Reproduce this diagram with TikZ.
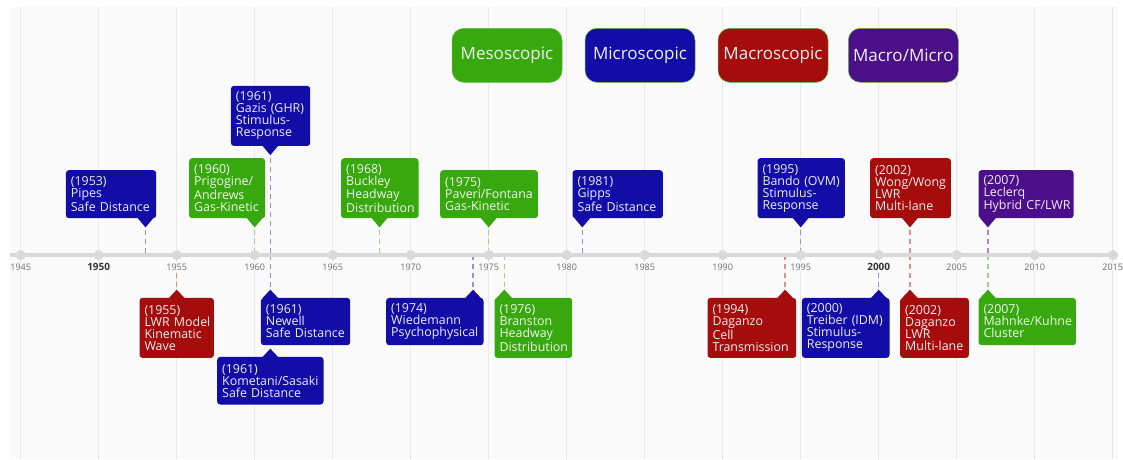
\documentclass[tikz,border=0pt]{standalone}
\usepackage{fontspec}
\setmainfont{Open Sans}
\definecolor{micro}{HTML}{120DA6}
\definecolor{meso}{HTML}{38A80F}
\definecolor{macro}{HTML}{A50D0D}
\definecolor{hybrid}{HTML}{4B0F8A}
\definecolor{plotbg}{HTML}{FAFAFA}
\definecolor{gridgray}{HTML}{E8E8E8}
\definecolor{axisgray}{HTML}{D9D9D9}
\definecolor{ticktext}{HTML}{6E6E6E}
\exhyphenpenalty=10000
\hyphenpenalty=10000

\tikzset{
  evbox/.style={anchor=north west, rounded corners=3pt, inner xsep=5pt, inner ysep=0pt, align=left,
    font=\fontsize{12.4}{12}\selectfont},
  microbox/.style={evbox, fill=micro, text=micro!8!white},
  mesobox/.style={evbox, fill=meso, text=meso!8!white},
  macrobox/.style={evbox, fill=macro, text=macro!8!white},
  hybridbox/.style={evbox, fill=hybrid, text=hybrid!8!white},
  evline/.style={line width=1.5pt, dash pattern=on 5pt off 4pt},
  microline/.style={evline, draw=micro!45!white},
  mesoline/.style={evline, draw=meso!50!white},
  macroline/.style={evline, draw=macro!45!white},
  hybridline/.style={evline, draw=hybrid!50!white},
  legendbox/.style={rounded corners=12pt, minimum width=110pt, minimum height=54pt, draw=meso!80!white,
    line width=0.5pt, text=white!94!black, font=\fontsize{17}{20}\selectfont},
  yearlabel/.style={fill=plotbg, inner sep=1pt, text=ticktext, font=\fontsize{9}{10}\selectfont},
  bigyear/.style={yearlabel, text=black!80, font=\fontsize{10}{11}\selectfont\bfseries},
}

\begin{document}
\begin{tikzpicture}[x=1pt, y=-1pt]
    \useasboundingbox (0,0) rectangle (1123,459);
    \fill[white] (0,0) rectangle (1123,459);
    \fill[plotbg] (10,7) rectangle (1118,459);

    % grid, one line every five years
    \draw[gridgray, line width=1pt]
        (20.7,7) -- (20.7,459) (98.7,7) -- (98.7,459) (176.7,7) -- (176.7,459)
        (254.7,7) -- (254.7,459) (332.7,7) -- (332.7,459) (410.7,7) -- (410.7,459)
        (488.7,7) -- (488.7,459) (566.7,7) -- (566.7,459) (644.7,7) -- (644.7,459)
        (722.7,7) -- (722.7,459) (800.7,7) -- (800.7,459) (878.7,7) -- (878.7,459)
        (956.7,7) -- (956.7,459) (1034.7,7) -- (1034.7,459) (1112.7,7) -- (1112.7,459);

    % events on the axis
    \coordinate (e1953) at (145.5,255);
    \coordinate (e1955) at (176.7,255);
    \coordinate (e1960) at (254.7,255);
    \coordinate (e1961) at (270.3,255);
    \coordinate (e1968) at (379.5,255);
    \coordinate (e1974) at (473.1,255);
    \coordinate (e1975) at (488.7,255);
    \coordinate (e1976) at (504.3,255);
    \coordinate (e1981) at (582.3,255);
    \coordinate (e1994) at (785.1,255);
    \coordinate (e1995) at (800.7,255);
    \coordinate (e2000) at (878.7,255);
    \coordinate (e2002) at (909.9,255);
    \coordinate (e2007) at (987.9,255);

    % legend
    \node[legendbox, fill=meso] (lmeso) at (507,55.3) {Mesoscopic};
    \node[legendbox, fill=micro] (lmicro) at (640,55.3) {Microscopic};
    \node[legendbox, fill=macro] (lmacro) at (773,55.3) {Macroscopic};
    \node[legendbox, fill=hybrid] (lhybrid) at (903.3,55.3) {Macro/Micro};

    % above the axis
    \node[microbox, text width=80.3pt, minimum height=48] (pipes) at (65.7,170) {(1953)\\Pipes\\Safe~Distance};
    \node[mesobox, text width=66pt, minimum height=60] (prigogine) at (189,158) {(1960)\\Prigogine/\\Andrews\\Gas-Kinetic};
    \node[microbox, text width=69.3pt, minimum height=60] (gazis) at (230.7,85.7) {(1961)\\Gazis~(GHR)\\Stimulus-\\Response};
    \node[mesobox, text width=67.3pt, minimum height=60] (buckley) at (341,158) {(1968)\\Buckley\\Headway\\Distribution};
    \node[mesobox, text width=87.7pt, minimum height=48] (paveri) at (440,170) {(1975)\\Paveri/Fontana\\Gas-Kinetic};
    \node[microbox, text width=80.4pt, minimum height=48] (gipps) at (572.3,170) {(1981)\\Gipps\\Safe~Distance};
    \node[microbox, text width=77.4pt, minimum height=60] (bando) at (757.3,158) {(1995)\\Bando~(OVM)\\Stimulus-\\Response};
    \node[macrobox, text width=70.7pt, minimum height=60] (wong) at (870,158) {(2002)\\Wong/Wong\\LWR\\Multi-lane};
    \node[hybridbox, text width=85pt, minimum height=48] (leclerq) at (978.3,170) {(2007)\\Leclerq\\Hybrid~CF/LWR};

    \fill[micro] (pipes.south -| e1953) ++(-8,-0.5) -- ++(8,9.5) -- ++(8,-9.5) -- cycle;
    \fill[meso] (prigogine.south -| e1960) ++(-8,-0.5) -- ++(8,9.5) -- ++(8,-9.5) -- cycle;
    \fill[micro] (gazis.south -| e1961) ++(-8,-0.5) -- ++(8,9.5) -- ++(8,-9.5) -- cycle;
    \fill[meso] (buckley.south -| e1968) ++(-8,-0.5) -- ++(8,9.5) -- ++(8,-9.5) -- cycle;
    \fill[meso] (paveri.south -| e1975) ++(-8,-0.5) -- ++(8,9.5) -- ++(8,-9.5) -- cycle;
    \fill[micro] (gipps.south -| e1981) ++(-8,-0.5) -- ++(8,9.5) -- ++(8,-9.5) -- cycle;
    \fill[micro] (bando.south -| e1995) ++(-8,-0.5) -- ++(8,9.5) -- ++(8,-9.5) -- cycle;
    \fill[macro] (wong.south -| e2002) ++(-8,-0.5) -- ++(8,9.5) -- ++(8,-9.5) -- cycle;
    \fill[hybrid] (leclerq.south -| e2007) ++(-8,-0.5) -- ++(8,9.5) -- ++(8,-9.5) -- cycle;

    \draw[microline, shorten <=12pt] (pipes.south -| e1953) -- (e1953);
    \draw[mesoline, shorten <=12pt] (prigogine.south -| e1960) -- (e1960);
    \draw[microline, shorten <=12pt] (gazis.south -| e1961) -- (e1961);
    \draw[mesoline, shorten <=12pt] (buckley.south -| e1968) -- (e1968);
    \draw[mesoline, shorten <=12pt] (paveri.south -| e1975) -- (e1975);
    \draw[microline, shorten <=12pt] (gipps.south -| e1981) -- (e1981);
    \draw[microline, shorten <=12pt] (bando.south -| e1995) -- (e1995);
    \draw[macroline, shorten <=12pt] (wong.south -| e2002) -- (e2002);
    \draw[hybridline, shorten <=12pt] (leclerq.south -| e2007) -- (e2007);

    % below the axis
    \node[macrobox, text width=64.4pt, minimum height=60] (lwr) at (139.3,297.7) {(1955)\\LWR~Model\\Kinematic\\Wave};
    \node[microbox, text width=79.3pt, minimum height=47.3] (newell) at (260.7,297.7) {(1961)\\Newell\\Safe~Distance};
    \node[microbox, text width=96.3pt, minimum height=47.6] (kometani) at (217,356.7) {(1961)\\Kometani/Sasaki\\Safe~Distance};
    \node[microbox, text width=87.3pt, minimum height=47.3] (wiedemann) at (386,297.7) {(1974)\\Wiedemann\\Psychophysical};
    \node[mesobox, text width=67.7pt, minimum height=60] (branston) at (494.3,297.7) {(1976)\\Branston\\Headway\\Distribution};
    \node[macrobox, text width=78.7pt, minimum height=60] (cell) at (707.3,297.7) {(1994)\\Daganzo\\Cell\\Transmission};
    \node[microbox, text width=77.6pt, minimum height=60] (treiber) at (801.7,297.7) {(2000)\\Treiber~(IDM)\\Stimulus-\\Response};
    \node[macrobox, text width=58.7pt, minimum height=60] (multilane) at (900,297.7) {(2002)\\Daganzo\\LWR\\Multi-lane};
    \node[mesobox, text width=87.4pt, minimum height=47.3] (mahnke) at (978.3,297.7) {(2007)\\Mahnke/Kuhne\\Cluster};

    \fill[macro] (lwr.north -| e1955) ++(-8,0.5) -- ++(8,-8.5) -- ++(8,8.5) -- cycle;
    \fill[micro] (newell.north -| e1961) ++(-8,0.5) -- ++(8,-8.5) -- ++(8,8.5) -- cycle;
    \fill[micro] (kometani.north -| e1961) ++(-8,0.5) -- ++(8,-8.5) -- ++(8,8.5) -- cycle;
    \fill[micro] (wiedemann.north -| e1974) ++(-8,0.5) -- ++(8,-8.5) -- ++(8,8.5) -- cycle;
    \fill[meso] (branston.north -| e1976) ++(-8,0.5) -- ++(8,-8.5) -- ++(8,8.5) -- cycle;
    \fill[macro] (cell.north -| e1994) ++(-8,0.5) -- ++(8,-8.5) -- ++(8,8.5) -- cycle;
    \fill[micro] (treiber.north -| e2000) ++(-8,0.5) -- ++(8,-8.5) -- ++(8,8.5) -- cycle;
    \fill[macro] (multilane.north -| e2002) ++(-8,0.5) -- ++(8,-8.5) -- ++(8,8.5) -- cycle;
    \fill[meso] (mahnke.north -| e2007) ++(-8,0.5) -- ++(8,-8.5) -- ++(8,8.5) -- cycle;

    \draw[macroline, shorten >=10pt] (e1955) -- (lwr.north -| e1955);
    \draw[microline, shorten >=10pt] (e1961) -- (newell.north -| e1961);
    \draw[microline, shorten >=10pt] (e1974) -- (wiedemann.north -| e1974);
    \draw[mesoline, shorten >=10pt] (e1976) -- (branston.north -| e1976);
    \draw[macroline, shorten >=10pt] (e1994) -- (cell.north -| e1994);
    \draw[microline, shorten >=10pt] (e2000) -- (treiber.north -| e2000);
    \draw[macroline, shorten >=10pt] (e2002) -- (multilane.north -| e2002);
    \draw[mesoline, shorten >=10pt] (e2007) -- (mahnke.north -| e2007);

    % time axis
    \draw[axisgray, line width=4.5pt] (10,255) -- (1118,255);
    \fill[axisgray]
        (20.7,255) circle (5) (98.7,255) circle (5) (176.7,255) circle (5)
        (254.7,255) circle (5) (332.7,255) circle (5) (410.7,255) circle (5)
        (488.7,255) circle (5) (566.7,255) circle (5) (644.7,255) circle (5)
        (722.7,255) circle (5) (800.7,255) circle (5) (878.7,255) circle (5)
        (956.7,255) circle (5) (1034.7,255) circle (5) (1112.7,255) circle (5);

    \node[yearlabel] (t1945) at (20.7,267) {1945};
    \node[bigyear] (t1950) at (98.7,267) {1950};
    \node[yearlabel] (t1955) at (176.7,267) {1955};
    \node[yearlabel] (t1960) at (254.7,267) {1960};
    \node[yearlabel] (t1965) at (332.7,267) {1965};
    \node[yearlabel] (t1970) at (410.7,267) {1970};
    \node[yearlabel] (t1975) at (488.7,267) {1975};
    \node[yearlabel] (t1980) at (566.7,267) {1980};
    \node[yearlabel] (t1985) at (644.7,267) {1985};
    \node[yearlabel] (t1990) at (722.7,267) {1990};
    \node[yearlabel] (t1995) at (800.7,267) {1995};
    \node[bigyear] (t2000) at (878.7,267) {2000};
    \node[yearlabel] (t2005) at (956.7,267) {2005};
    \node[yearlabel] (t2010) at (1034.7,267) {2010};
    \node[yearlabel] (t2015) at (1112.7,267) {2015};
\end{tikzpicture}
\end{document}
